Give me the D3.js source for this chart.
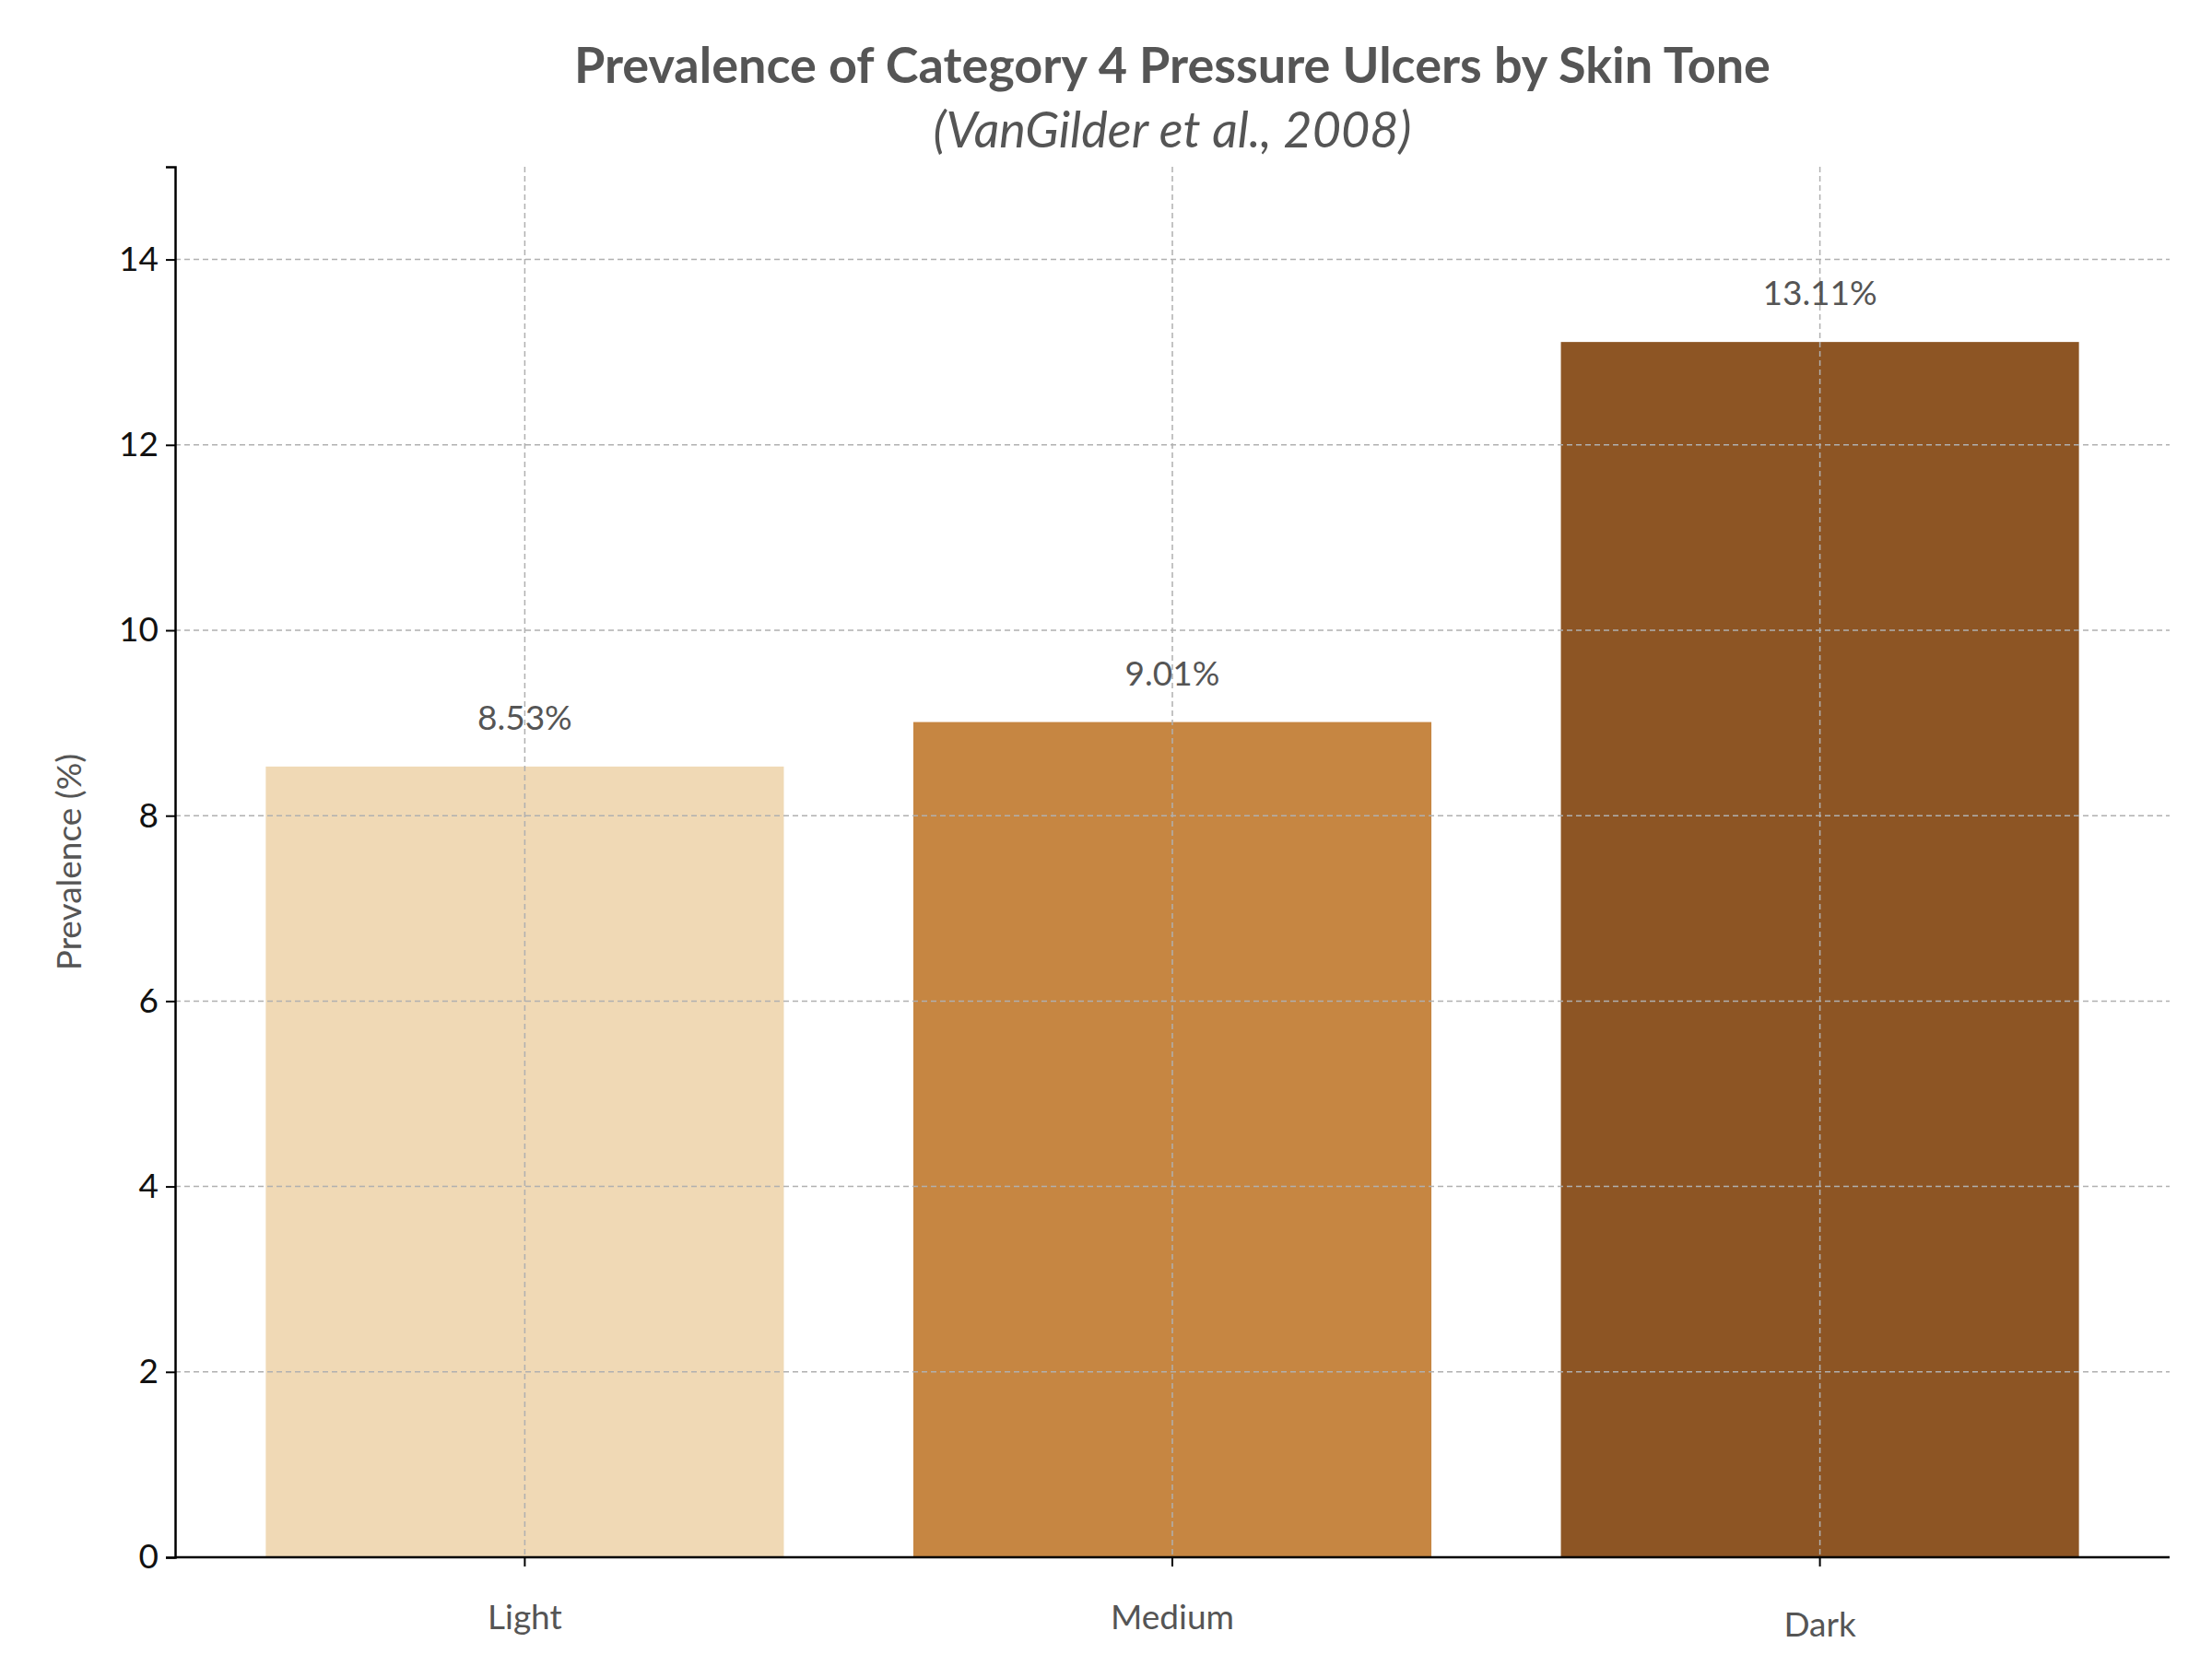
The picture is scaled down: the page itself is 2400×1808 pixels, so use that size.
<!DOCTYPE html>
<html>
<head>
<meta charset="utf-8">
<script src="https://cdn.jsdelivr.net/npm/d3@7"></script>
<style>
  body { margin: 0; background: #fff; }
  text { font-family: "Lato", "Noto Sans", sans-serif; }
</style>
</head>
<body>
<script>
  // data
  var categories = ["Light", "Medium", "Dark"];
  var values = [8.53, 9.01, 13.11];
  var colors = ["#f0d9b5", "#c68642", "#8d5524"];
  var yTicks = [0, 2, 4, 6, 8, 10, 12, 14];

  var W = 2400, H = 1808;
  var m = { left: 190, right: 46, top: 181, bottom: 118 };

  var svg = d3.select("body").append("svg")
      .attr("width", W).attr("height", H);

  var x = d3.scaleLinear().domain([-0.54, 2.54]).range([m.left, W - m.right]);
  var y = d3.scaleLinear().domain([0, 15]).range([H - m.bottom, m.top]);
  var bw = x(0.4) - x(-0.4);

  // bars
  svg.selectAll("rect.bar").data(values).enter().append("rect")
      .attr("class", "bar")
      .attr("x", function(d, i) { return x(i) - bw / 2; })
      .attr("y", function(d) { return y(d); })
      .attr("width", bw)
      .attr("height", function(d) { return y(0) - y(d); })
      .attr("fill", function(d, i) { return colors[i]; });

  // grid (drawn over bars, like the original)
  svg.selectAll("line.gy").data(yTicks.slice(1)).enter().append("line")
      .attr("x1", m.left).attr("x2", W - m.right)
      .attr("y1", function(d) { return y(d); }).attr("y2", function(d) { return y(d); })
      .attr("stroke", "#b0b0b0").attr("stroke-width", 1.5).attr("stroke-dasharray", "6,4");
  svg.selectAll("line.gx").data(categories).enter().append("line")
      .attr("x1", function(d, i) { return x(i); }).attr("x2", function(d, i) { return x(i); })
      .attr("y1", m.top).attr("y2", H - m.bottom)
      .attr("stroke", "#b0b0b0").attr("stroke-width", 1.5).attr("stroke-dasharray", "6,4");

  // axes
  var ya = svg.append("g").attr("transform", "translate(" + m.left + ",0)")
      .call(d3.axisLeft(y).tickValues(yTicks).tickSize(10).tickPadding(8));
  ya.select(".domain").attr("stroke", "#000").attr("stroke-width", 2.5);
  ya.selectAll("text").attr("font-size", 37).attr("fill", "#111");
  ya.selectAll(".tick line").attr("stroke-width", 2);

  svg.append("line")
      .attr("x1", m.left).attr("x2", W - m.right)
      .attr("y1", y(0)).attr("y2", y(0))
      .attr("stroke", "#000").attr("stroke-width", 2.5);
  svg.selectAll("line.xt").data(categories).enter().append("line")
      .attr("x1", function(d, i) { return x(i); }).attr("x2", function(d, i) { return x(i); })
      .attr("y1", y(0)).attr("y2", y(0) + 10)
      .attr("stroke", "#000").attr("stroke-width", 2);

  svg.selectAll("text.xl").data(categories).enter().append("text")
      .attr("x", function(d, i) { return x(i) - (i == 1 ? 0 : 0); })
      .attr("y", function(d, i) { return y(0) + (i == 2 ? 86 : 78); })
      .attr("text-anchor", "middle").attr("font-size", 37).attr("fill", "#555")
      .text(function(d) { return d; });

  // value labels
  svg.selectAll("text.vl").data(values).enter().append("text")
      .attr("x", function(d, i) { return x(i); })
      .attr("y", function(d) { return y(d) - 40; })
      .attr("text-anchor", "middle").attr("font-size", 37).attr("fill", "#555")
      .text(function(d) { return d.toFixed(2) + "%"; });

  // y label
  svg.append("text")
      .attr("transform", "translate(88," + ((m.top + H - m.bottom) / 2) + ") rotate(-90)")
      .attr("text-anchor", "middle").attr("font-size", 37).attr("fill", "#555")
      .text("Prevalence (%)");

  // title
  svg.append("text")
      .attr("x", (m.left + W - m.right) / 2).attr("y", 90)
      .attr("text-anchor", "middle").attr("font-size", 54).attr("font-weight", "bold")
      .attr("fill", "#555").text("Prevalence of Category 4 Pressure Ulcers by Skin Tone");
  svg.append("text")
      .attr("x", (m.left + W - m.right) / 2).attr("y", 160)
      .attr("text-anchor", "middle").attr("font-size", 54).attr("font-style", "italic")
      .attr("fill", "#555").text("(VanGilder et al., 2008)");
</script>
</body>
</html>
